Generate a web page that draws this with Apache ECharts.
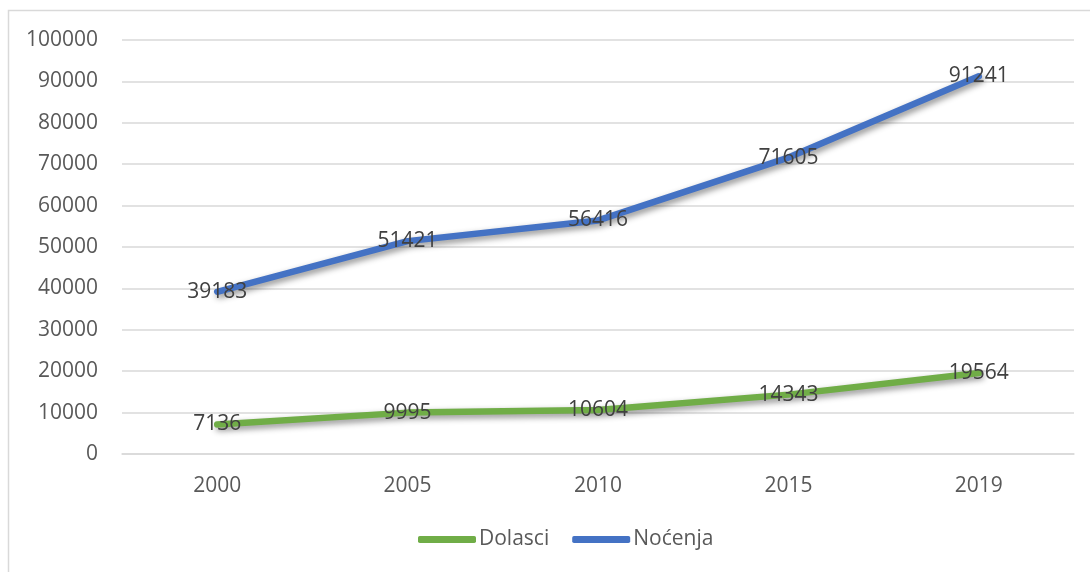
<!DOCTYPE html>
<html>
<head>
<meta charset="utf-8">
<script src="https://cdn.jsdelivr.net/npm/echarts@6/dist/echarts.min.js"></script>
<style>
html,body{margin:0;padding:0;background:#fff;}
#c{width:1090px;height:572px;}
</style>
</head>
<body>
<div id="c"></div>
<script>
const categories = ['2000', '2005', '2010', '2015', '2019'];
const dolasci = [7136, 9995, 10604, 14343, 19564];
const nocenja = [39183, 51421, 56416, 71605, 91241];
const yTicks = { min: 0, max: 100000, interval: 10000 };

const FONT = '"Open Sans", sans-serif';
const chart = echarts.init(document.getElementById('c'));
const labelCfg = {
  show: true,
  position: 'inside',
  color: '#404040',
  fontSize: 21,
  fontFamily: FONT
};
chart.setOption({
  animation: false,
  graphic: [{
    type: 'rect',
    shape: { x: 8.5, y: 10.5, width: 1100, height: 600 },
    style: { fill: 'none', stroke: '#d9d9d9', lineWidth: 1.5 },
    silent: true,
    z: -1
  }],
  grid: { left: 122, right: 16, top: 40, bottom: 118 },
  legend: {
    bottom: 17,
    left: 413,
    icon: 'roundRect',
    itemWidth: 58,
    itemHeight: 7,
    itemGap: 23,
    textStyle: { color: '#595959', fontSize: 21, fontFamily: FONT, padding: [0, 0, 0, -2] },
    data: [
      { name: 'Dolasci', itemStyle: { color: '#70AD47', opacity: 1 } },
      { name: 'Noćenja', itemStyle: { color: '#4472C4', opacity: 1 } }
    ]
  },
  xAxis: {
    type: 'category',
    data: categories,
    boundaryGap: true,
    axisLine: { lineStyle: { color: '#d9d9d9', width: 1.5 } },
    axisTick: { show: false },
    axisLabel: { color: '#595959', fontSize: 21, fontFamily: FONT, margin: 22 }
  },
  yAxis: {
    type: 'value',
    min: yTicks.min,
    max: yTicks.max,
    interval: yTicks.interval,
    axisLine: { show: false },
    axisTick: { show: false },
    splitLine: { lineStyle: { color: '#d9d9d9', width: 1.5 } },
    axisLabel: { color: '#595959', fontSize: 21, fontFamily: FONT, margin: 24, formatter: v => String(v) }
  },
  series: [
    {
      name: 'Dolasci',
      type: 'line',
      data: dolasci,
      symbol: 'circle',
      symbolSize: 1,
      showSymbol: true,
      itemStyle: { color: 'rgba(0,0,0,0)' },
      lineStyle: {
        width: 6.5, color: '#70AD47', cap: 'round',
        shadowColor: 'rgba(0,0,0,0.45)', shadowBlur: 6, shadowOffsetX: 2, shadowOffsetY: 3
      },
      label: labelCfg,
      z: 3
    },
    {
      name: 'Noćenja',
      type: 'line',
      data: nocenja,
      symbol: 'circle',
      symbolSize: 1,
      showSymbol: true,
      itemStyle: { color: 'rgba(0,0,0,0)' },
      lineStyle: {
        width: 6.5, color: '#4472C4', cap: 'round',
        shadowColor: 'rgba(0,0,0,0.45)', shadowBlur: 6, shadowOffsetX: 2, shadowOffsetY: 3
      },
      label: labelCfg,
      z: 3
    }
  ]
});
</script>
</body>
</html>
